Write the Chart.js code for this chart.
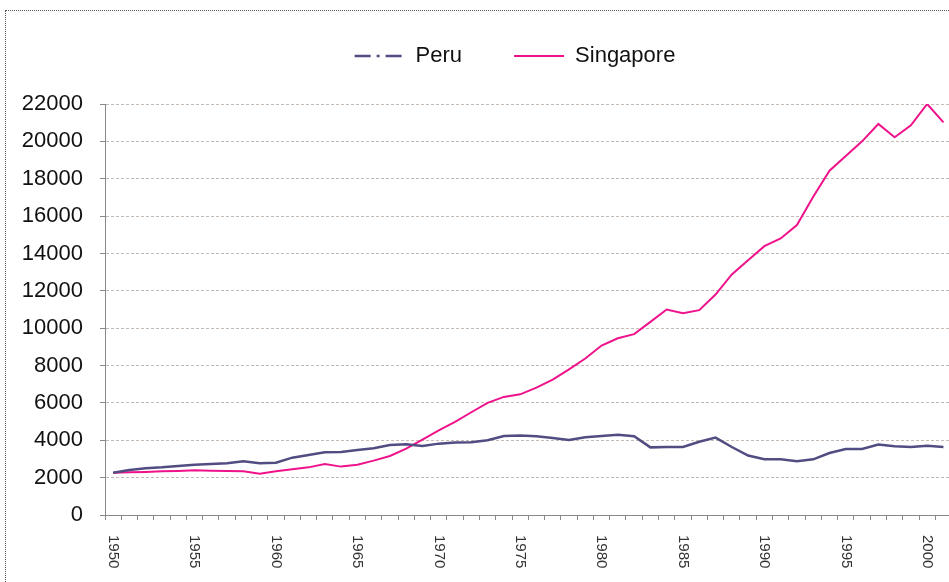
<!DOCTYPE html>
<html>
<head>
<meta charset="utf-8">
<script src="https://cdn.jsdelivr.net/npm/chart.js"></script>
<style>
  body { margin: 0; background: #fff; overflow: hidden; width: 949px; height: 582px; position: relative; }
  #frame { position: absolute; left: 5px; top: 10px; width: 2000px; height: 2000px; border: 1px dotted #555; }
  #wrap { position: absolute; left: 0; top: -7px; width: 1030px; height: 589px; }
</style>
</head>
<body>
<div id="frame"></div>
<div id="wrap"><canvas id="chartCanvas"></canvas></div>
<script>
const years = [];
for (let y = 1950; y <= 2001; y++) years.push(String(y));

const peru = [2265, 2410, 2500, 2550, 2620, 2690, 2730, 2765, 2870, 2765,
  2800, 3070, 3210, 3355, 3370, 3480, 3570, 3750, 3790, 3700,
  3820, 3875, 3890, 4000, 4230, 4250, 4215, 4125, 4020, 4160,
  4230, 4300, 4220, 3620, 3640, 3640, 3920, 4140, 3640, 3180,
  2980, 2980, 2875, 2980, 3320, 3535, 3535, 3770, 3680, 3640,
  3700, 3640];

const singapore = [2266, 2284, 2302, 2338, 2355, 2391, 2375, 2355, 2340, 2210,
  2340, 2450, 2550, 2730, 2590, 2690, 2910, 3160, 3550, 4035,
  4535, 4980, 5500, 6000, 6320, 6460, 6820, 7250, 7800, 8375,
  9070, 9460, 9680, 10340, 11000, 10800, 10964, 11800, 12875, 13640,
  14390, 14800, 15520, 17040, 18430, 19215, 20000, 20930, 20215, 20860,
  22000, 21018];

const yTicks = [0, 2000, 4000, 6000, 8000, 10000, 12000, 14000, 16000, 18000, 20000, 22000];

const fontFamily = "'Liberation Sans', Arial, sans-serif";

// legend sits high, chart area starts lower; legend centred on the full (wider) canvas
const legendGap = {
  id: 'legendGap',
  beforeInit(chart) {
    const fit = chart.legend.fit;
    chart.legend.fit = function() {
      fit.bind(chart.legend)();
      this.height = 111;
    };
  },
  afterLayout(chart) {
    chart.legend.right = chart.width;
    chart.legend.width = chart.width - chart.legend.left;
  }
};

// year labels every 5 years, rotated clockwise like the original
const yearLabels = {
  id: 'yearLabels',
  afterDraw(chart) {
    const ctx = chart.ctx;
    const xs = chart.scales.x;
    ctx.save();
    ctx.font = '15px ' + fontFamily;
    ctx.fillStyle = '#333';
    ctx.textAlign = 'left';
    ctx.textBaseline = 'middle';
    for (let i = 0; i < years.length; i++) {
      if (Number(years[i]) % 5 != 0) continue;
      ctx.save();
      ctx.translate(xs.getPixelForValue(i), xs.top + 20);
      ctx.rotate(Math.PI / 2);
      ctx.fillText(years[i], 0, 0);
      ctx.restore();
    }
    ctx.restore();
  }
};

const ctx = document.getElementById('chartCanvas').getContext('2d');
new Chart(ctx, {
  type: 'line',
  data: {
    labels: years,
    datasets: [
      {
        label: 'Peru',
        data: peru,
        borderColor: '#514c82',
        backgroundColor: '#514c82',
        borderWidth: 2.5,
        pointRadius: 0,
        tension: 0,
      },
      {
        label: 'Singapore',
        data: singapore,
        borderColor: '#ef138b',
        backgroundColor: '#ef138b',
        borderWidth: 2,
        pointRadius: 0,
        tension: 0,
      },
    ],
  },
  options: {
    responsive: true,
    maintainAspectRatio: false,
    animation: false,
    layout: { padding: { left: 0, right: 78.4, top: 0, bottom: 62 } },
    scales: {
      x: {
        type: 'category',
        offset: true,
        grid: { offset: true, drawOnChartArea: false, drawTicks: true, tickLength: 5, tickColor: '#888' },
        border: { display: true, color: '#888', width: 1 },
        ticks: { display: false, autoSkip: false },
      },
      y: {
        min: 0,
        max: 22000,
        afterBuildTicks: (scale) => { scale.ticks = yTicks.map(v => ({ value: v })); },
        afterFit: (scale) => { scale.width = 105; },
        grid: { color: '#c4bcb4', lineWidth: 1, tickLength: 5, tickColor: '#888', tickBorderDash: [] },
        border: { display: true, color: '#888', width: 1, dash: [3, 2] },
        ticks: {
          padding: 17,
          color: '#111',
          font: { size: 22, family: fontFamily },
          callback: (v) => String(v),
        },
      },
    },
    plugins: {
      legend: {
        display: true,
        position: 'top',
        labels: {
          usePointStyle: true,
          pointStyle: 'line',
          pointStyleWidth: 50,
          padding: 52,
          color: '#111',
          font: { size: 22, family: fontFamily },
          generateLabels: (chart) => {
            const items = Chart.defaults.plugins.legend.labels.generateLabels(chart);
            items[0].lineDash = [16, 6, 3, 6];
            return items;
          },
        },
      },
      tooltip: { enabled: false },
    },
  },
  plugins: [legendGap, yearLabels],
});
</script>
</body>
</html>
